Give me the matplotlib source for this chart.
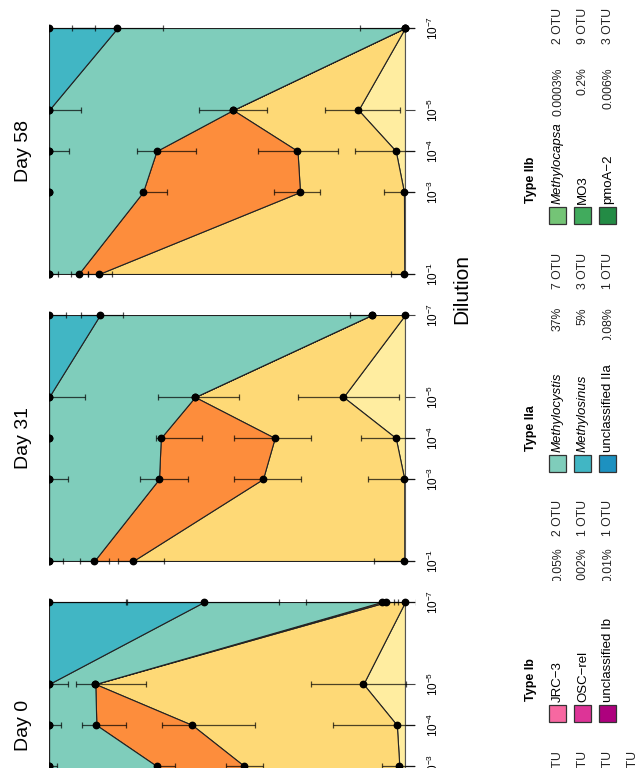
import numpy as np
import matplotlib
matplotlib.use('Agg')
import matplotlib.pyplot as plt
from matplotlib.patches import Rectangle
from matplotlib.transforms import Bbox, TransformedBbox
from matplotlib.ticker import NullLocator

plt.rcParams['font.family'] = ['Liberation Sans', 'DejaVu Sans']
plt.rcParams['mathtext.fontset'] = 'custom'
plt.rcParams['mathtext.rm'] = 'Liberation Sans'
plt.rcParams['mathtext.it'] = 'Liberation Sans:italic'

# dilution steps and their labels
dilution = [1e-1, 1e-3, 1e-4, 1e-5, 1e-7]
dil_labels = [r'$10^{-1}$', r'$10^{-3}$', r'$10^{-4}$', r'$10^{-5}$', r'$10^{-7}$']

# cumulative proportions (rows: layer tops, bottom layer first; cols: dilutions)
d58_cum = [[0.002, 0.003, 0.026, 0.131, 0.000],
           [0.860, 0.295, 0.302, 0.483, 0.000],
           [0.917, 0.736, 0.698, 0.483, 0.000],
           [1.000, 1.000, 1.000, 1.000, 0.808],
           [1.000, 1.000, 1.000, 1.000, 1.000]]
d58_err_lo = [[0.036, 0.056, 0.114, 0.117, 0.127],
              [0.036, 0.056, 0.114, 0.094, 0.000],
              [0.026, 0.068, 0.111, 0.000, 0.000],
              [0.025, 0.000, 0.056, 0.091, 0.128],
              [0.000, 0.000, 0.000, 0.000, 0.128]]
d58_err_hi = [[0.036, 0.056, 0.114, 0.094, 0.127],
              [0.030, 0.073, 0.111, 0.096, 0.000],
              [0.022, 0.000, 0.054, 0.000, 0.000],
              [0.000, 0.000, 0.000, 0.000, 0.127],
              [0.000, 0.000, 0.000, 0.000, 0.000]]

d31_cum = [[0.002, 0.002, 0.026, 0.173, 0.000],
           [0.764, 0.399, 0.366, 0.590, 0.094],
           [0.873, 0.691, 0.686, 0.590, 0.094],
           [1.000, 1.000, 1.000, 1.000, 0.857],
           [1.000, 1.000, 1.000, 1.000, 1.000]]
d31_err_lo = [[0.084, 0.101, 0.097, 0.155, 0.000],
              [0.087, 0.106, 0.103, 0.125, 0.000],
              [0.042, 0.082, 0.117, 0.000, 0.000],
              [0.039, 0.053, 0.007, 0.100, 0.066],
              [0.000, 0.000, 0.000, 0.000, 0.049]]
d31_err_hi = [[0.084, 0.101, 0.097, 0.127, 0.000],
              [0.042, 0.082, 0.114, 0.103, 0.061],
              [0.040, 0.054, 0.014, 0.000, 0.000],
              [0.000, 0.000, 0.000, 0.000, 0.052],
              [0.000, 0.000, 0.000, 0.000, 0.000]]

d0_cum = [[0.003, 0.016, 0.023, 0.117, 0.000],
          [0.300, 0.452, 0.598, 0.870, 0.052],
          [0.500, 0.698, 0.867, 0.870, 0.066],
          [1.000, 1.000, 1.000, 1.000, 0.565],
          [1.000, 1.000, 1.000, 1.000, 1.000]]
d0_err_lo = [[0.030, 0.050, 0.178, 0.120, 0.030],
             [0.050, 0.053, 0.176, 0.143, 0.033],
             [0.050, 0.052, 0.084, 0.000, 0.000],
             [0.020, 0.023, 0.035, 0.053, 0.212],
             [0.000, 0.000, 0.000, 0.000, 0.217]]
d0_err_hi = [[0.030, 0.050, 0.178, 0.146, 0.030],
             [0.050, 0.050, 0.084, 0.055, 0.000],
             [0.050, 0.000, 0.039, 0.000, 0.211],
             [0.000, 0.000, 0.000, 0.000, 0.217],
             [0.000, 0.000, 0.000, 0.000, 0.000]]

day_names = ['Day 58', 'Day 31', 'Day 0']
layer_colors = ['#FFEDA0', '#FED976', '#FD8D3C', '#7FCDBB', '#41B6C4']

# legend groups
ib_labels = ['JRC\u22123', 'OSC\u2212rel', 'unclassified Ib']
ib_pct = ['0.05%', '0.002%', '0.01%']
ib_otu = ['2 OTU', '1 OTU', '1 OTU']
ib_colors = ['#F768A1', '#DD3497', '#AE017E']

iia_labels = ['Methylocystis', 'Methylosinus', 'unclassified IIa']
iia_pct = ['37%', '5%', '0.08%']
iia_otu = ['7 OTU', '3 OTU', '1 OTU']
iia_colors = ['#7FCDBB', '#41B6C4', '#1D91C0']

iib_labels = ['Methylocapsa', 'MO3', 'pmoA\u22122']
iib_pct = ['0.0003%', '0.2%', '0.006%']
iib_otu = ['2 OTU', '9 OTU', '3 OTU']
iib_colors = ['#74C476', '#41AB5D', '#238B45']

ia_otu = ['14 OTU', '6 OTU', '3 OTU', '2 OTU']

W, H = 638, 768
fig = plt.figure(figsize=(W / 100, H / 100), dpi=100)


def fx(x):
    return x / W


def fy(y):
    return 1 - y / H


def panel(top_px, cum, err_lo, err_hi, name):
    ax = fig.add_axes([fx(49), fy(top_px + 246), fx(356), 246 / H])
    # points and bars may spill a little past the right and the ends
    clip = TransformedBbox(Bbox([[0, -10 / 246], [1 + 10 / 356, 1 + 10 / 246]]),
                           ax.transAxes)
    base = [0, 0, 0, 0, 0]
    for i, col in enumerate(layer_colors):
        ax.fill_betweenx(dilution, base, cum[i], facecolor=col,
                         edgecolor='#222222', linewidth=0.8, zorder=1)
        base = cum[i]
    for i in range(len(cum)):
        eb = ax.errorbar(cum[i], dilution, xerr=[err_lo[i], err_hi[i]],
                         fmt='none', ecolor='black', elinewidth=0.9,
                         capsize=2.4, capthick=0.9, alpha=0.7, zorder=3)
        for art in eb.get_children():
            art.set_clip_box(clip)
        pts, = ax.plot(cum[i], dilution, 'o', color='black', markersize=4.6,
                       zorder=4)
        pts.set_clip_box(clip)
    ax.set_xlim(1, 0)
    ax.set_yscale('log')
    ax.set_ylim(1e-1, 1e-7)
    ax.set_xticks([])
    ax.yaxis.tick_right()
    ax.set_yticks(dilution)
    ax.set_yticklabels(dil_labels)
    ax.yaxis.set_minor_locator(NullLocator())
    ax.tick_params(axis='y', length=7, width=0.8, color='#444444', pad=8,
                   labelsize=8.5)
    for lab in ax.get_yticklabels():
        lab.set_rotation(90)
        lab.set_va('center')
        lab.set_ha('left')
    for s in ['left', 'top', 'bottom']:
        ax.spines[s].set_visible(False)
    ax.spines['right'].set_color('#555555')
    ax.spines['right'].set_linewidth(0.8)
    fig.text(fx(24), fy(top_px + 123), name, rotation=90, ha='center',
             va='center', fontsize=14)
    return ax


panel(28, d58_cum, d58_err_lo, d58_err_hi, day_names[0])
panel(315, d31_cum, d31_err_lo, d31_err_hi, day_names[1])
panel(602, d0_cum, d0_err_lo, d0_err_hi, day_names[2])

fig.text(fx(462), fy(289), 'Dilution', rotation=90, ha='center', va='center',
         fontsize=15)

row_x = [557, 582, 607, 632]


def legend_group(title, head_y, pct_top, otu_top, labels, pcts, otus, colors,
                 italic, clip_y=None):
    fig.text(fx(531), fy(head_y), title, rotation=90, ha='center',
             va='bottom', fontsize=9, fontweight='bold')
    for k in range(len(labels)):
        x = row_x[k]
        fig.add_artist(Rectangle((fx(x - 8.5), fy(head_y + 21)), 17 / W, 17 / H,
                                 transform=fig.transFigure, facecolor=colors[k],
                                 edgecolor='#333333', linewidth=0.9))
        fig.text(fx(x + 1), fy(head_y + 1), labels[k], rotation=90, ha='center',
                 va='bottom', fontsize=9.5,
                 fontstyle='italic' if italic[k] else 'normal')
        t = fig.text(fx(x + 1), fy(pct_top), pcts[k], rotation=90, ha='center',
                     va='top', fontsize=8.8, color='#222222')
        if clip_y is not None:
            t.set_clip_box(TransformedBbox(Bbox([[0, fy(clip_y)], [1, 1]]),
                                           fig.transFigure))
            t.set_clip_on(True)
        fig.text(fx(x + 1), fy(otu_top), otus[k], rotation=90, ha='center',
                 va='top', fontsize=8.8, color='#222222')


legend_group('Type IIb', 203, 67, 8, iib_labels, iib_pct, iib_otu, iib_colors,
             [True, False, False])
legend_group('Type IIa', 451, 307, 253, iia_labels, iia_pct, iia_otu,
             iia_colors, [True, True, False], clip_y=340)
legend_group('Type Ib', 701, 547, 500, ib_labels, ib_pct, ib_otu, ib_colors,
             [False, False, False], clip_y=581)

for k, s in enumerate(ia_otu):
    fig.text(fx(row_x[k] + 1), fy(751), s, rotation=90, ha='center', va='top',
             fontsize=8.8, color='#222222')

fig.savefig('out.png', dpi=100)
